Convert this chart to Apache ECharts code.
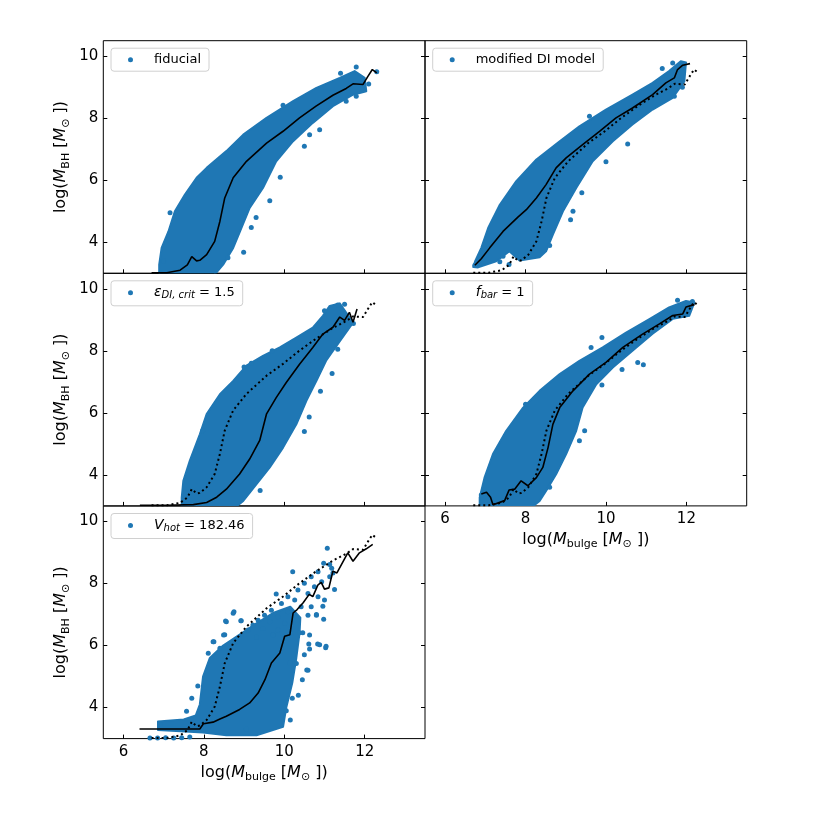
<!DOCTYPE html>
<html>
<head>
<meta charset="utf-8">
<script src="https://cdn.jsdelivr.net/npm/echarts@6/dist/echarts.min.js"></script>
<style>
  body { margin: 0; background: #fff; }
  #box { width: 830px; height: 830px; }
</style>
</head>
<body>
<div id="box"></div>
<script>
// ticks
var xTicks = [6, 8, 10, 12];
var yTicks = [4, 6, 8, 10];

// panel names (legend)
var names = ['fiducial', 'modified DI model', 'eps', 'fbar', 'vhot'];

// dense part of each cloud, outline
var fidCloud = [[6.89,2.9],[6.89,3.28],[6.95,3.82],[7.12,4.35],[7.28,5.0],[7.53,5.54],[7.82,6.08],[8.07,6.40],[8.56,6.94],[8.98,7.47],[9.56,8.01],[10.22,8.55],[10.80,8.98],[11.38,9.30],[11.75,9.52],[12.0,9.3],[12.04,8.87],[11.71,8.76],[11.21,8.39],[10.71,7.85],[10.22,7.26],[9.8,6.61],[9.47,5.75],[9.14,5.11],[8.9,4.35],[8.73,3.82],[8.48,3.28],[8.23,2.9]];
var modCloud = [[6.70,3.20],[6.75,3.40],[6.90,3.82],[7.07,4.46],[7.36,5.21],[7.77,5.97],[8.27,6.67],[8.85,7.26],[9.34,7.74],[10.0,8.28],[10.66,8.76],[11.16,9.14],[11.57,9.52],[11.86,9.84],[11.99,9.80],[11.95,9.19],[11.66,8.66],[11.16,8.28],[10.66,7.80],[10.17,7.26],[9.67,6.61],[9.26,5.75],[8.93,5.0],[8.68,4.25],[8.51,3.71],[8.35,3.52],[7.85,3.41],[7.6,3.71],[7.27,3.39],[6.82,3.19]];
var epsCloud = [[7.45,2.9],[7.45,3.27],[7.49,3.81],[7.65,4.45],[7.90,5.31],[8.07,5.96],[8.40,6.60],[8.73,7.03],[9.06,7.52],[9.47,7.84],[9.89,8.11],[10.30,8.43],[10.71,8.75],[10.96,9.13],[11.13,9.45],[11.38,9.53],[11.71,8.91],[11.21,8.0],[11.04,7.68],[10.80,7.03],[10.55,6.39],[10.30,5.63],[9.97,4.88],[9.64,4.24],[9.31,3.70],[8.98,3.16],[8.73,2.9]];
var fbarCloud = [[6.86,2.9],[6.86,3.27],[6.98,3.91],[7.19,4.67],[7.52,5.42],[7.94,6.17],[8.35,6.71],[8.85,7.25],[9.34,7.68],[9.92,8.11],[10.50,8.59],[11.08,9.02],[11.57,9.40],[11.99,9.61],[12.20,9.56],[12.07,9.13],[11.66,9.03],[11.16,8.55],[10.66,8.0],[10.17,7.46],[9.76,6.92],[9.42,6.17],[9.26,5.42],[9.01,4.67],[8.76,4.02],[8.51,3.48],[8.35,3.16],[8.10,2.9]];
var vhotCloud = [[6.86,3.28],[6.86,3.55],[7.5,3.62],[7.8,3.75],[7.9,4.1],[7.98,5.0],[8.15,5.6],[8.48,6.0],[8.89,6.35],[9.31,6.72],[9.72,7.05],[10.15,7.25],[10.4,6.9],[10.38,6.4],[10.3,5.6],[10.2,4.8],[10.05,4.0],[9.97,3.38],[9.31,3.11],[8.56,3.11],[7.98,3.2]];

// loose points outside the dense part
var fidPts = [[7.16,4.95],[11.79,9.65],[8.99,3.68],[9.64,5.34],[9.18,4.48],[10.88,7.63],[10.63,7.47],[9.97,8.42],[11.79,8.71],[11.54,8.55],[12.3,9.5],[9.3,4.8],[9.9,6.1],[10.5,7.1],[11.4,9.45],[12.1,9.1],[7.0,3.4],[8.6,3.5]];
var modPts = [[10.54,7.17],[11.66,9.78],[9.18,5.0],[9.12,4.73],[7.36,3.37],[7.59,3.28],[7.44,3.55],[9.59,8.06],[11.70,8.71],[6.74,3.26],[9.4,5.6],[10.0,6.6],[11.4,9.6],[11.9,9.0],[8.6,3.9]];
var epsPts = [[10.62,5.87],[11.19,7.27],[11.33,8.05],[9.0,7.48],[9.18,7.6],[11.33,9.48],[11.50,9.50],[11.0,9.29],[7.97,5.42],[11.72,8.88],[10.9,6.7],[10.5,5.4],[9.7,8.0],[9.4,3.5]];
var fbarPts = [[8.0,6.28],[9.90,8.43],[9.63,8.11],[10.93,7.55],[10.79,7.62],[11.78,9.63],[12.15,9.59],[9.47,5.42],[9.34,5.10],[6.9,3.35],[9.9,6.9],[10.4,7.4],[11.3,8.8],[8.6,3.6]];
var vhotPts = [[11.07,9.14],[10.21,8.38],[10.98,8.65],[11.18,8.49],[10.84,8.38],[11.13,8.22],[10.67,8.22],[10.93,8.06],[10.50,8.01],[10.75,7.90],[11.25,7.81],[10.34,7.79],[10.59,7.68],[11.0,7.47],[10.84,7.57],[10.09,7.57],[10.26,7.47],[9.80,7.66],[9.93,7.36],[10.42,7.25],[10.67,7.25],[10.96,7.27],[9.68,7.14],[10.09,7.09],[10.59,6.98],[10.80,6.98],[10.98,6.85],[9.51,6.98],[9.84,6.93],[9.35,6.82],[9.64,6.77],[10.01,6.72],[9.22,6.66],[9.47,6.55],[9.84,6.50],[9.10,6.50],[10.46,6.41],[10.63,6.34],[10.17,6.39],[9.72,6.34],[9.31,6.28],
  [8.73,7.04],[8.93,6.80],[8.56,6.77],[8.23,6.12],[8.11,5.75],[8.40,5.91],[8.52,6.35],[8.75,7.09],[8.54,6.79],[8.92,6.80],[8.25,6.12],[8.49,6.34],
  [11.03,5.93],[10.56,5.21],[10.83,6.05],[10.61,6.05],[10.30,5.42],[10.59,5.20],[10.88,6.03],[10.63,5.89],[11.04,5.98],[11.21,8.34],[11.13,8.61],[10.80,7.0],[10.38,6.41],[10.14,5.44],[10.5,5.7],[10.45,4.9],[10.35,4.4],[10.2,4.3],[10.05,3.9],[10.15,3.6],
  [7.57,3.88],[6.91,3.48],[9.06,3.31],[7.7,4.3],[7.85,4.7],
  [6.66,3.02],[6.85,3.02],[7.05,3.03],[7.25,3.02],[7.45,3.03],[7.65,3.05]];

// running medians
var fidMed = [[6.70,3.02],[7.08,3.02],[7.41,3.10],[7.59,3.27],[7.70,3.54],[7.82,3.40],[7.90,3.42],[8.07,3.60],[8.27,4.03],[8.40,4.68],[8.52,5.43],[8.73,6.08],[9.06,6.61],[9.56,7.20],[9.97,7.58],[10.38,8.01],[10.79,8.39],[11.21,8.74],[11.54,8.96],[11.71,9.11],[11.96,9.09],[12.08,9.35],[12.19,9.57],[12.30,9.46]];
var modMed = [[6.74,3.26],[6.90,3.47],[7.11,3.82],[7.44,4.35],[7.81,4.81],[8.02,5.05],[8.27,5.43],[8.51,5.86],[8.76,6.40],[9.01,6.72],[9.42,7.15],[9.84,7.58],[10.25,8.01],[10.66,8.33],[11.16,8.76],[11.49,9.14],[11.70,9.30],[11.78,9.57],[11.91,9.71],[12.09,9.76]];
var epsMed = [[6.41,3.02],[7.08,3.02],[7.74,3.04],[8.07,3.11],[8.32,3.28],[8.56,3.54],[8.89,4.03],[9.14,4.51],[9.39,5.11],[9.56,5.97],[9.80,6.49],[10.05,6.98],[10.38,7.57],[10.71,8.11],[10.96,8.54],[11.21,8.76],[11.38,9.09],[11.50,8.98],[11.62,9.24],[11.71,8.92],[11.81,9.35]];
var fbarMed = [[6.90,3.38],[7.03,3.44],[7.13,3.28],[7.19,3.04],[7.48,3.17],[7.59,3.51],[7.73,3.54],[7.89,3.81],[8.06,3.65],[8.27,3.91],[8.43,4.24],[8.56,4.88],[8.68,5.63],[8.85,6.17],[9.18,6.71],[9.59,7.25],[10.0,7.63],[10.42,8.11],[10.91,8.54],[11.33,8.87],[11.66,9.14],[11.91,9.19],[11.99,9.41],[12.20,9.49]];
var vhotMed = [[6.40,3.31],[7.90,3.31],[7.99,3.48],[8.23,3.53],[8.40,3.63],[8.56,3.72],[8.89,3.94],[9.14,4.15],[9.35,4.47],[9.52,4.90],[9.68,5.44],[9.89,5.76],[10.01,6.30],[10.14,6.35],[10.22,7.05],[10.32,7.16],[10.47,7.38],[10.62,7.65],[10.71,7.58],[10.84,7.96],[10.92,8.04],[11.0,7.82],[11.11,7.86],[11.21,8.40],[11.31,8.34],[11.58,8.99],[11.71,8.72],[11.87,8.99],[12.04,9.12],[12.20,9.26]];

var clouds = [fidCloud, modCloud, epsCloud, fbarCloud, vhotCloud];
var pts = [fidPts, modPts, epsPts, fbarPts, vhotPts];
var meds = [fidMed, modMed, epsMed, fbarMed, vhotMed];

var C0 = '#1f77b4';
var FONT = 'DejaVu Sans';
var lefts = [103.3, 425, 103.3, 425, 103.3];
var tops = [40.7, 40.7, 273.3, 273.3, 506];
var W = 321.7, H = 232.6;

var legendText = {
    'fiducial': '{g|}{n|fiducial}',
    'modified DI model': '{g|}{n|modified DI model}',
    'eps': '{g|}{i|ε}{s|DI, crit}{n| = 1.5}',
    'fbar': '{g|}{i|f}{s|bar}{n| = 1}',
    'vhot': '{g|}{i|V}{s|hot}{n| = 182.46}'
};
var richLeg = {
    g: { width: 16 },
    n: { fontSize: 13, fontFamily: FONT, color: '#000', lineHeight: 16 },
    i: { fontSize: 14, fontFamily: FONT, fontStyle: 'italic', color: '#000', lineHeight: 16 },
    s: { fontSize: 10, fontFamily: FONT, fontStyle: 'italic', color: '#000', lineHeight: 6, verticalAlign: 'bottom' }
};
var richAx = {
    n: { fontSize: 16, fontFamily: FONT, color: '#000', lineHeight: 20 },
    m: { fontSize: 16, fontFamily: FONT, fontStyle: 'italic', color: '#000', lineHeight: 20 },
    s: { fontSize: 11, fontFamily: FONT, color: '#000', lineHeight: 7, verticalAlign: 'bottom' }
};
var bhName = '{n|log(}{m|M}{s|BH}{n| [}{m|M}{s|⊙}{n| ])}';
var bulgeName = '{n|log(}{m|M}{s|bulge}{n| [}{m|M}{s|⊙}{n| ])}';

var grids = [], xAxes = [], yAxes = [], rightAxes = [], legends = [], series = [];

for (let i = 0; i < 5; i++) {
    grids.push({ left: lefts[i], top: tops[i], width: W, height: H, show: true, borderColor: '#000', borderWidth: 1, backgroundColor: 'transparent' });
    var showX = (i == 3 || i == 4);
    var showY = (i % 2 == 0);
    xAxes.push({
        gridIndex: i, type: 'value', min: 5.5, max: 13.5,
        splitLine: { show: false },
        axisLine: { show: false },
        axisTick: { show: true, inside: true, length: 4, customValues: xTicks, lineStyle: { color: '#000' } },
        axisLabel: { show: showX, customValues: xTicks, color: '#000', fontSize: 15, fontFamily: FONT, margin: 6 },
        name: showX ? bulgeName : '', nameLocation: 'middle', nameGap: 24,
        nameTextStyle: { rich: richAx }
    });
    yAxes.push({
        gridIndex: i, type: 'value', min: 3, max: 10.5, position: 'left',
        splitLine: { show: false },
        axisLine: { show: false },
        axisTick: { show: true, inside: true, length: 4, customValues: yTicks, lineStyle: { color: '#000' } },
        axisLabel: { show: showY, customValues: yTicks, color: '#000', fontSize: 15, fontFamily: FONT, margin: 5 },
        name: showY ? bhName : '', nameLocation: 'middle', nameGap: 32, nameRotate: 90,
        nameTextStyle: { rich: richAx }
    });
    rightAxes.push({
        gridIndex: i, type: 'value', min: 3, max: 10.5, position: 'right',
        splitLine: { show: false },
        axisLine: { show: false },
        axisTick: { show: true, inside: true, length: 4, customValues: yTicks, lineStyle: { color: '#000' } },
        axisLabel: { show: false }
    });
    legends.push({
        data: [names[i]], left: lefts[i] + 7.7, top: tops[i] + 7.5,
        icon: 'circle', itemWidth: 5, itemHeight: 5, selectedMode: false,
        padding: [5, 8, 5, 17], borderColor: '#d0d0d0', borderWidth: 1, borderRadius: 3,
        backgroundColor: 'rgba(255,255,255,0.8)',
        formatter: function (name) { return legendText[name]; },
        textStyle: { fontSize: 13, fontFamily: FONT, color: '#000', rich: richLeg }
    });

    let poly = clouds[i];
    series.push({
        type: 'custom', name: 'cloud' + i, xAxisIndex: i, yAxisIndex: i, data: poly, clip: true, silent: true, z: 1,
        renderItem: function (params, api) {
            if (params.dataIndex !== 0) return null;
            var p = poly.map(function (d) { return api.coord(d); });
            return { type: 'polygon', shape: { points: p }, style: { fill: C0, stroke: C0, lineWidth: 2, lineJoin: 'round' } };
        }
    });
    series.push({
        type: 'scatter', name: names[i], xAxisIndex: i, yAxisIndex: i, data: pts[i],
        symbolSize: 5, itemStyle: { color: C0, opacity: 1 }, silent: true, z: 2
    });
    if (i > 0) {
        series.push({
            type: 'line', name: 'ref' + i, xAxisIndex: i, yAxisIndex: i, data: fidMed, showSymbol: false,
            lineStyle: { color: '#000', width: 2, type: [2, 3] }, silent: true, z: 3
        });
    }
    series.push({
        type: 'line', name: 'med' + i, xAxisIndex: i, yAxisIndex: i, data: meds[i], showSymbol: false,
        lineStyle: { color: '#000', width: 1.6 }, silent: true, z: 4
    });
}

var myChart = echarts.init(document.getElementById('box'));
myChart.setOption({
    animation: false,
    backgroundColor: '#fff',
    grid: grids,
    xAxis: xAxes,
    yAxis: yAxes.concat(rightAxes),
    legend: legends,
    series: series
});
</script>
</body>
</html>
